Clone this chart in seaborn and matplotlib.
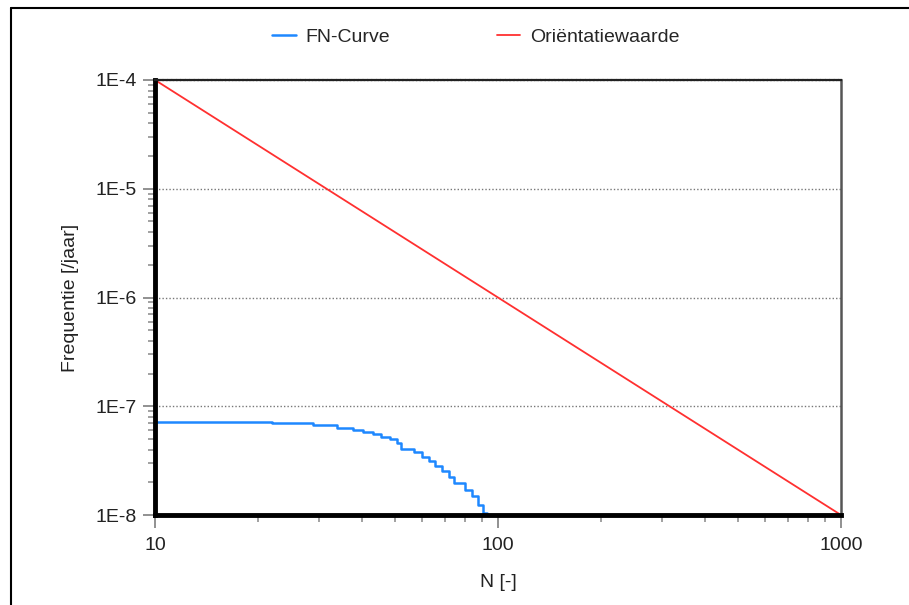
import numpy as np
import matplotlib
matplotlib.use('Agg')
import matplotlib.pyplot as plt
import matplotlib.ticker as mticker
import seaborn as sns

# Data
fn_n = [10, 22, 28.9, 33.9, 37.8, 40.4, 43.3, 45.7, 48.3, 50.6, 52.3, 56.8, 60,
        62.8, 65.7, 68.8, 72, 74.6, 80, 83.8, 87.7, 90.6, 92.6]
fn_freq = [7.2e-8, 6.97e-8, 6.68e-8, 6.3e-8, 6.0e-8, 5.75e-8, 5.52e-8, 5.25e-8,
           4.97e-8, 4.62e-8, 4.02e-8, 3.77e-8, 3.44e-8, 3.14e-8, 2.84e-8, 2.54e-8,
           2.25e-8, 1.96e-8, 1.7e-8, 1.48e-8, 1.24e-8, 1.05e-8, 1.0e-8]
orient_n = [10, 1000]
orient_freq = [1e-4, 1e-8]

x_ticks = [10, 100, 1000]
y_ticks = [1e-8, 1e-7, 1e-6, 1e-5, 1e-4]

sns.set_style('white')
plt.rcParams['font.family'] = ['Liberation Sans', 'DejaVu Sans']

fig = plt.figure(figsize=(9.09, 6.05), dpi=100)
ax = fig.add_axes([155 / 909, 1 - 515 / 605, (841 - 155) / 909, (515 - 80) / 605])

# outer frame (top and left edges only)
fig.add_artist(plt.Line2D([11 / 909, 11 / 909], [0, 1 - 8 / 605], color='black', lw=1.5,
                          transform=fig.transFigure))
fig.add_artist(plt.Line2D([11 / 909, 1], [1 - 8 / 605, 1 - 8 / 605], color='black', lw=1.5,
                          transform=fig.transFigure))

sns.lineplot(x=fn_n, y=fn_freq, ax=ax, color='#1e88ff', lw=1.8, drawstyle='steps-post',
             sort=False, estimator=None, label='FN-Curve')
sns.lineplot(x=orient_n, y=orient_freq, ax=ax, color='#ff3030', lw=1.3,
             sort=False, estimator=None, label='Oriëntatiewaarde')

ax.set_xscale('log')
ax.set_yscale('log')
ax.set_xlim(10, 1000)
ax.set_ylim(1e-8, 1e-4)

ax.set_xticks(x_ticks)
ax.xaxis.set_major_formatter(mticker.FuncFormatter(lambda v, p: f'{v:g}'))
ax.set_yticks(y_ticks)
ax.yaxis.set_major_formatter(mticker.FuncFormatter(lambda v, p: f'1E{int(round(np.log10(v)))}'))
ax.xaxis.set_minor_locator(mticker.LogLocator(base=10, subs=np.arange(2, 10)))
ax.yaxis.set_minor_locator(mticker.LogLocator(base=10, subs=np.arange(2, 10)))
ax.xaxis.set_minor_formatter(mticker.NullFormatter())
ax.yaxis.set_minor_formatter(mticker.NullFormatter())

ax.tick_params(axis='both', which='both', bottom=True, left=True, top=False, right=False)
ax.tick_params(axis='both', which='major', direction='out', length=9, width=1.3,
               color='#888888', labelsize=14, labelcolor='#222222', pad=4)
ax.tick_params(axis='x', which='major', pad=7)
ax.tick_params(axis='both', which='minor', direction='out', length=5, width=1.1,
               color='#888888')

ax.yaxis.grid(True, which='major', linestyle=(0, (1, 1.5)), color='#777777', lw=1.0)
ax.xaxis.grid(False)

ax.spines['left'].set_linewidth(3.5)
ax.spines['left'].set_color('black')
ax.spines['bottom'].set_linewidth(3.5)
ax.spines['bottom'].set_color('black')
ax.spines['top'].set_linestyle((0, (1.2, 0.8)))
ax.spines['top'].set_linewidth(1.6)
ax.spines['top'].set_color('#222222')
ax.spines['right'].set_linewidth(1.8)
ax.spines['right'].set_color('#555555')

ax.set_xlabel('N [-]', fontsize=14, color='#222222', labelpad=14)
ax.set_ylabel('Frequentie [/jaar]', fontsize=14, color='#222222', labelpad=12)

handles, labels = ax.get_legend_handles_labels()
ax.get_legend().remove()
fig.legend(handles, labels, loc='center', bbox_to_anchor=(476 / 909, 1 - 37 / 605),
           ncol=2, frameon=False, fontsize=14, handlelength=1.2, handletextpad=0.5,
           columnspacing=5.5)

fig.savefig('out.png', dpi=100)
